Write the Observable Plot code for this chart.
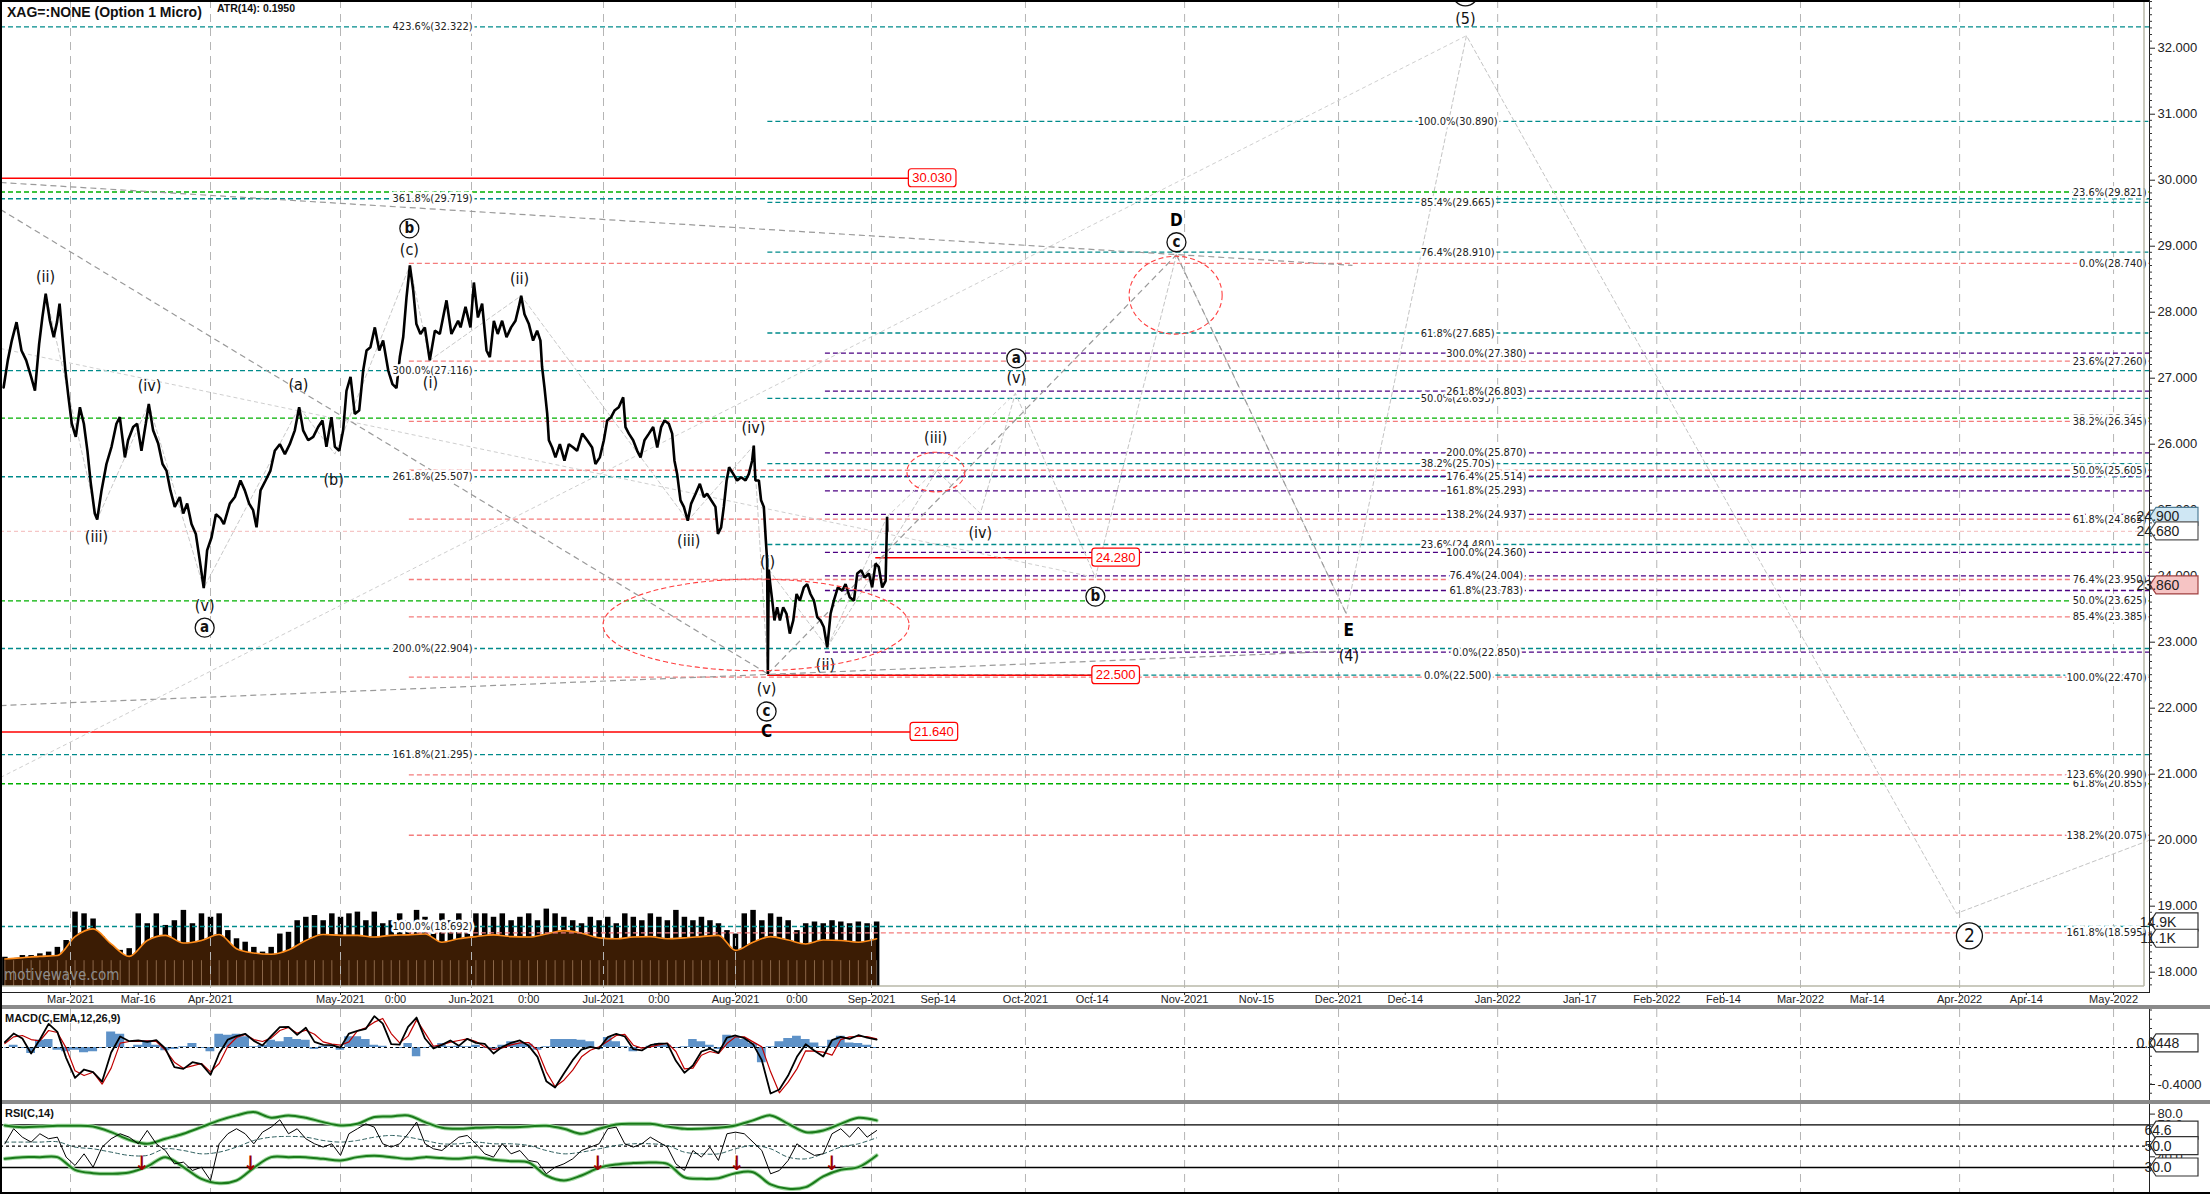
<!DOCTYPE html>
<html><head><meta charset="utf-8">
<script src="https://cdn.jsdelivr.net/npm/d3@7"></script>
<script src="https://cdn.jsdelivr.net/npm/@observablehq/plot@0.6"></script>
<style>
body{margin:0;background:#fff;}
#wrap{position:relative;width:2210px;height:1194px;overflow:hidden;background:#fff;font-family:'Liberation Sans Narrow','DejaVu Sans Condensed','Arial Narrow',sans-serif;}
.panel{position:absolute;left:0;}
.lbl{position:absolute;white-space:nowrap;color:#111;}
svg g[aria-label^="x-axis"] text{font-size:11px;font-family:'Liberation Sans',Arial,sans-serif;fill:#222;}
svg g[aria-label^="y-axis"] text{font-size:13px;font-family:'Liberation Sans',Arial,sans-serif;fill:#222;}
</style></head>
<body><div id="wrap"></div>
<script>
const FONT = "'Liberation Sans Narrow','DejaVu Sans Condensed','Arial Narrow',sans-serif";
const W = 2210, MR = 61;

// ---------- DATA ----------
const priceTimes = [
"02-13 17","02-14 16","02-15 14","02-16 16","02-17 19","02-18 21","02-20 00","02-20 21","02-21 20","02-22 14",
"02-23 08","02-24 07","02-25 04","02-25 22","02-26 12","02-27 04","02-27 20","02-28 13","03-01 07","03-02 04",
"03-03 02","03-03 23","03-04 18","03-05 12","03-06 09","03-06 22","03-07 21","03-08 23","03-10 02","03-11 04",
"03-11 22","03-13 01","03-13 18","03-14 21","03-15 18","03-16 17","03-17 16","03-18 08","03-19 07","03-20 10",
"03-21 09","03-22 06","03-23 03","03-24 02","03-25 05","03-25 23","03-26 20","03-27 19","03-28 18","03-29 15",
"03-30 12","03-31 06","04-01 06","04-02 06","04-03 07","04-04 02","04-05 11","04-06 15","04-07 22","04-08 22",
"04-09 22","04-10 20","04-11 15","04-12 13","04-13 17","04-14 20","04-15 20","04-17 00","04-18 04","04-19 07",
"04-20 11","04-21 11","04-22 09","04-23 13","04-24 17","04-25 20","04-26 20","04-27 18","04-28 22","04-29 17",
"04-30 17","05-01 15","05-02 10","05-03 09","05-04 09","05-05 10","05-06 09","05-07 04","05-08 02","05-09 03",
"05-10 04","05-11 02","05-12 07","05-13 07","05-14 06","05-15 01","05-15 20","05-16 15","05-17 10","05-18 05",
"05-18 23","05-19 22","05-20 23","05-22 03","05-23 08","05-24 12","05-26 02","05-27 06","05-28 20","05-29 10",
"05-30 14","05-31 18","06-01 13","06-02 11","06-03 10","06-04 10","06-05 04","06-06 02","06-06 23","06-07 23",
"06-08 23","06-10 00","06-11 00","06-11 18","06-12 07","06-13 01","06-14 01","06-15 00","06-15 22","06-16 16",
"06-17 01","06-17 14","06-18 05","06-18 14","06-19 08","06-20 02","06-21 02","06-22 03","06-23 03","06-24 03",
"06-25 00","06-26 04","06-27 07","06-28 10","06-29 04","06-30 04","07-01 02","07-01 21","07-02 19","07-03 14",
"07-04 14","07-05 15","07-06 04","07-06 23","07-07 23","07-08 22","07-09 17","07-10 15","07-11 16","07-12 16",
"07-13 15","07-14 13","07-15 08","07-16 08","07-17 03","07-17 16","07-18 07","07-19 02","07-19 21","07-20 19",
"07-21 14","07-22 15","07-23 15","07-24 14","07-25 08","07-26 07","07-27 07","07-27 21","07-28 15","07-29 06",
"07-29 22","07-30 12","07-31 11","08-01 09","08-02 07","08-03 07","08-04 01","08-04 19","08-05 04","08-05 13",
"08-06 08","08-06 20","08-07 11","08-07 22","08-08 05","08-08 09","08-08 14","08-08 20","08-09 09","08-09 21",
"08-10 12","08-11 03","08-11 21","08-12 15","08-13 09","08-14 04","08-14 22","08-15 16","08-16 14","08-17 08",
"08-18 02","08-18 21","08-19 15","08-20 09","08-21 03","08-21 22","08-22 16","08-23 10","08-24 08","08-25 08",
"08-26 02","08-27 01","08-28 00","08-28 18","08-29 16","08-30 10","08-31 10","09-01 03","09-01 19","09-02 10",
"09-03 02","09-03 18","09-04 01","09-04 02"];
const priceValues = [
26.86,27.27,27.57,27.85,27.42,27.27,27.02,26.81,27.52,27.93,
28.28,27.87,27.62,27.85,28.13,27.62,27.12,26.71,26.31,26.11,
26.56,26.31,25.90,25.40,24.95,24.86,25.30,25.70,25.96,26.31,
26.41,25.80,26.06,26.26,26.31,25.90,26.31,26.61,26.21,26.01,
25.70,25.60,25.30,25.05,25.20,24.95,25.10,24.79,24.64,24.24,
23.82,24.39,24.59,24.94,24.88,24.79,25.10,25.20,25.45,25.30,
25.10,25.00,24.74,25.30,25.45,25.60,25.90,26.00,25.85,26.00,
26.21,26.56,26.21,26.06,26.11,26.26,26.36,25.96,26.41,25.96,
25.90,26.21,26.81,27.02,26.46,26.51,27.12,27.42,27.47,27.77,
27.42,27.57,27.12,26.91,26.85,27.32,27.62,28.23,28.71,28.33,
27.82,27.67,27.77,27.27,27.72,27.67,28.18,27.67,27.87,27.77,
28.08,27.77,28.45,27.92,28.13,27.42,27.32,27.87,27.67,27.87,
27.62,27.77,27.87,28.08,28.25,27.97,27.82,27.57,27.72,27.57,
27.17,26.86,26.46,26.06,25.95,25.80,26.00,25.75,26.00,25.95,
25.90,26.16,26.06,25.95,25.70,25.80,26.06,26.36,26.41,26.51,
26.56,26.71,26.26,26.16,26.06,25.90,25.80,26.06,26.16,26.26,
25.95,26.26,26.36,26.31,26.16,25.75,25.55,25.15,25.05,24.84,
25.10,25.25,25.40,25.20,25.25,25.15,25.05,24.64,24.74,25.05,
25.45,25.65,25.55,25.45,25.50,25.45,25.55,25.75,25.98,25.45,
25.45,25.15,25.05,24.54,24.24,22.52,24.10,23.93,23.63,23.33,
23.53,23.33,23.53,23.43,23.13,23.33,23.73,23.63,23.83,23.88,
23.73,23.63,23.38,23.33,23.23,22.92,23.43,23.63,23.83,23.78,
23.88,23.68,23.63,24.04,24.09,23.98,24.04,23.83,24.19,24.14,
23.83,23.93,24.90,24.68];
const lastPrice = 24.68;

// indicator series (every 2 days from 2021-02-14)
const macdValues = [
0.058,0.151,0.097,-0.065,0.086,0.256,0.169,-0.112,-0.328,-0.238,
-0.267,-0.368,-0.054,0.119,0.068,0.076,0.061,0.079,-0.011,-0.213,
-0.231,-0.159,-0.18,-0.295,-0.065,0.086,0.123,0.148,0.072,0.022,
0.123,0.22,0.223,0.137,0.213,0.061,0.029,0.025,0,0.151,
0.18,0.202,0.339,0.259,0.036,0.032,0.223,0.324,0.097,-0.011,
0.029,0.076,0.018,0.094,0.05,0.04,-0.065,0.007,0.05,0.076,
0.018,-0.101,-0.364,-0.432,-0.281,-0.137,-0.022,0.007,-0.011,0.112,
0.148,0.119,-0.018,-0.032,0.025,0.043,0.043,-0.144,-0.274,-0.195,
-0.043,-0.011,-0.058,0.108,0.13,0.101,0.036,-0.137,-0.497,-0.454,
-0.303,-0.101,0.036,-0.036,-0.097,0.079,0.115,0.094,0.133,0.108,0.086];
const signalValues = [
0.043,0.115,0.13,0.086,0.072,0.184,0.162,-0.004,-0.252,-0.303,
-0.267,-0.396,-0.223,0.047,0.065,0.065,0.072,0.065,-0.029,-0.159,
-0.223,-0.198,-0.173,-0.263,-0.173,0.014,0.108,0.141,0.086,0.065,
0.101,0.184,0.216,0.155,0.187,0.144,0.061,0.036,0.025,0.061,
0.18,0.213,0.274,0.314,0.151,0.05,0.123,0.299,0.159,0.014,
0.032,0.058,0.076,0.094,0.065,0.007,-0.022,-0.004,0.029,0.05,
0.054,-0.029,-0.263,-0.425,-0.353,-0.245,-0.101,-0.029,0.007,0.068,
0.13,0.141,0.025,-0.007,0.007,0.029,0.047,-0.043,-0.231,-0.223,
-0.083,-0.043,-0.065,0.043,0.115,0.115,0.061,0.007,-0.263,-0.49,
-0.375,-0.231,-0.036,-0.04,-0.05,-0.083,0.086,0.115,0.119,0.119,0.094];
const histValues = [
-0.011,0.025,-0.011,-0.065,0.079,0.086,-0.029,-0.047,-0.029,-0.058,
-0.047,-0.011,0.169,0.144,-0.011,0.025,0.072,0.025,-0.036,-0.022,
0.007,0.043,-0.011,-0.047,0.144,0.133,0.144,0.115,0.007,0.025,
0.079,0.061,0.108,0.086,0.079,-0.022,0.014,0.007,-0.029,0.115,
0.115,0.086,0.025,0.014,0,-0.011,0.043,-0.101,-0.011,0.014,
0.043,0.007,0.014,0.007,0.025,-0.011,-0.029,0.025,0.061,0.05,
0.036,-0.029,0.007,0.086,0.086,0.086,0.079,0.061,-0.022,0.108,
0.061,0.007,-0.047,-0.011,0.014,0.043,0.025,-0.011,0.007,0.086,
0.061,0.025,-0.022,0.133,0.115,0.086,0.043,-0.166,0.007,0.061,
0.097,0.123,0.086,0.05,0.007,0.079,0.123,0.05,0.043,0.025,-0.011];
const rsiValues = [
52.2,66.3,58.4,53.8,61.6,56.9,58.4,39.7,31.9,42.8,
30.3,49.1,56.9,61.6,58.4,52.2,64.7,52.2,45.9,33.4,
35.0,27.2,30.3,17.8,52.2,61.6,66.3,61.6,52.2,63.1,
67.8,74.7,61.6,66.3,56.9,52.2,49.1,52.2,41.3,61.6,
66.3,70.9,67.8,52.2,49.1,52.2,61.6,72.5,52.2,47.5,
45.9,52.2,58.4,60.0,52.2,42.8,39.7,52.2,42.8,45.9,
36.6,35.0,24.1,30.3,33.4,38.1,45.9,49.1,52.2,66.3,
67.8,52.2,49.1,52.2,58.4,53.8,49.1,33.4,27.2,45.9,
39.7,49.1,36.6,61.6,63.1,61.6,53.8,45.9,24.1,27.2,
36.6,52.2,45.9,41.3,42.8,61.6,66.3,58.4,67.8,58.4,64.6];
const volumeValues = [
6.8,6.4,7.2,7.2,7.6,8.0,9.1,10.7,17.3,16.9,
15.7,11.5,9.1,8.4,8.8,16.9,14.6,16.9,14.2,15.3,
17.7,14.6,16.9,16.1,16.9,13.0,11.1,10.3,9.1,8.0,
9.1,12.2,12.6,15.3,16.1,16.5,15.3,16.9,16.1,16.9,
17.3,15.3,17.3,14.6,15.3,16.9,15.3,17.7,16.1,15.3,
16.9,15.3,16.9,14.6,16.9,16.9,16.1,16.9,15.3,16.1,
16.9,15.3,18.0,16.9,16.1,15.3,14.6,16.1,15.3,16.1,
14.6,16.9,16.1,15.3,16.9,16.1,15.3,17.7,16.1,15.3,
16.1,15.3,14.6,13.0,12.2,16.9,17.7,15.3,16.9,16.1,
15.3,13.0,14.6,15.0,14.6,15.3,15.0,14.6,15.0,14.6,15.0];
// every 4 days from 2021-02-14
const rsiUpper = [69.4,67.8,68.4,69.1,69.1,68.4,63.1,55.9,52.2,56.9,61.6,67.8,74.1,78.8,81.9,76.6,78.8,76.6,72.5,69.4,70.9,77.2,77.8,78.8,72.5,67.2,66.3,67.2,67.8,67.8,68.4,69.1,66.3,61.6,66.3,70.3,70.9,70.9,68.4,66.3,66.3,67.2,69.4,74.1,78.8,70.9,63.1,64.7,70.9,76.6,74.1];
const rsiLower = [38.1,39.7,39.7,39.7,27.8,24.7,24.1,25.3,30.9,39.7,30.3,19.4,15.3,17.8,29.7,39.7,39.7,39.7,38.1,36.6,39.7,40.9,39.7,38.1,39.7,38.8,38.1,39.7,37.2,35.9,34.7,22.5,17.8,22.5,29.7,32.8,34.1,34.7,33.4,20.9,19.4,20.0,24.7,25.6,14.1,10.0,11.6,21.6,27.8,30.3,41.3];
const rsiMid = [53.8,53.8,53.8,54.1,49.1,47.5,44.4,41.3,41.3,47.5,45.9,42.8,44.4,49.1,55.3,58.4,59.1,58.4,55.3,53.8,55.3,58.4,60.0,58.4,55.3,52.2,52.2,53.8,52.2,52.2,50.6,45.9,42.8,44.4,47.5,50.6,52.2,52.2,50.6,44.4,42.8,42.8,47.5,50.6,47.5,39.7,38.1,42.8,49.1,52.2,57.8];
const volumeMA = [6.4,6.7,7.0,7.2,11.6,13.4,9.9,7.0,10.7,11.9,10.1,10.7,12.1,8.8,7.8,7.5,8.5,10.7,12.1,11.9,11.9,11.5,11.9,12.0,12.2,10.3,11.1,11.6,12.0,11.6,11.5,12.2,13.0,12.4,11.3,11.1,11.5,11.6,11.1,11.3,11.6,11.9,8.4,10.3,11.6,10.8,9.9,10.8,10.7,10.3,11.1];
const rsiArrowTimes = ["2021-03-16T17","2021-04-10T05","2021-06-29T15","2021-08-01T05","2021-08-22T21"];

// Fibonacci level sets
const tealAValues = [32.322,29.719,27.116,25.507,22.904,21.295,18.692];
const tealAPct    = [423.6,361.8,300.0,261.8,200.0,161.8,100.0];
const tealBValues = [30.890,29.665,28.910,27.685,26.695,25.705,24.480,22.500];
const tealBPct    = [100.0,85.4,76.4,61.8,50.0,38.2,23.6,0.0];
const purpleValues= [27.380,26.803,25.870,25.514,25.293,24.937,24.360,24.004,23.783,22.850];
const purplePct   = [300.0,261.8,200.0,176.4,161.8,138.2,100.0,76.4,61.8,0.0];
const pinkValues  = [28.740,27.260,26.345,25.605,24.865,23.950,23.385,22.470,20.990,20.075,18.595];
const pinkPct     = [0.0,23.6,38.2,50.0,61.8,76.4,85.4,100.0,123.6,138.2,161.8];
const greenValues = [29.821,26.394,23.625,20.855];
const greenPct    = [23.6,38.2,50.0,61.8];
const fibStarts = {tealA:"2021-02-13T00", tealB:"2021-08-08T09", purple:"2021-08-21T12", pink:"2021-05-17T07", green:"2021-02-13T00"};
const fibLabelTimes = {tealA:"2021-05-22T19", tealB:"2021-12-24T05", purple:"2021-12-29T19"};

// red price levels
const redValues = [30.030, 21.640, 22.500, 24.280];
const redStarts = ["2021-02-13T00","2021-02-13T00","2021-08-08T09","2021-09-01T20"];
const redLabelTimes = ["2021-09-12T22","2021-09-13T06","2021-10-18T16","2021-10-18T16"];

// wave pivots
const pastPathTimes = ["2021-02-23T08","2021-03-06T22","2021-03-18T08","2021-03-30T12","2021-04-21T11","2021-04-29T17","2021-05-17T10","2021-05-22T03","2021-06-12T07","2021-07-20T19","2021-08-05T04","2021-08-08T09","2021-08-08T14","2021-08-21T22","2021-09-04T01"];
const pastPathValues = [28.28,24.86,26.61,23.82,26.56,25.85,28.71,27.27,28.25,24.84,25.98,22.52,24.10,22.92,24.90];
const futurePathTimes = ["2021-08-21T22","2021-09-13T17","2021-09-22T05","2021-09-29T01","2021-10-14T15","2021-10-30T10","2021-12-02T12","2021-12-25T22","2022-03-31T10","2022-05-08T00"];
const futurePathValues = [22.92,25.60,24.95,26.77,23.98,28.87,23.43,32.19,18.89,20.00];
// dashed guide lines: [start, value, end, value]
const darkGuides = [
 ["2021-02-13T00",29.965,"2021-12-03T17",28.71],
 ["2021-02-13T00",29.556,"2021-08-08T09",22.52],
 ["2021-02-13T00",22.04,"2021-11-30T10",22.86],
 ["2021-08-08T09",22.52,"2021-10-30T10",28.87],
 ["2021-10-30T10",28.87,"2021-12-02T12",23.43]];
const lightGuides = [
 ["2021-02-13T00",20.95,"2021-12-25T22",32.19],
 ["2021-02-13T00",27.45,"2021-10-14T15",23.98],
 ["2021-09-04T01",24.90,"2021-09-29T01",26.77]];

const waveTexts = ["(ii)","(iii)","(iv)","(v)","(a)","(b)","(c)","(i)","(ii)","(iii)","(iv)","(i)","(ii)","(v)","(iii)","(iv)","(v)","(4)","(5)"];
const waveTimes = ["2021-02-23T07","2021-03-06T18","2021-03-18T12","2021-03-30T17","2021-04-21T07","2021-04-29T10","2021-05-17T07","2021-05-22T07","2021-06-11T22","2021-07-21T00","2021-08-05T02","2021-08-08T07","2021-08-21T12","2021-08-08T02","2021-09-13T12","2021-09-22T05","2021-09-29T05","2021-12-03T00","2021-12-25T17"];
const waveValues = [28.53,24.59,26.89,23.556,26.90,25.46,28.95,26.935,28.51,24.53,26.25,24.22,22.65,22.29,26.09,24.66,27.00,22.80,32.45];
const boldTexts = ["C","D","E"];
const boldTimes = ["2021-08-08T02","2021-10-30T10","2021-12-03T00"];
const boldValues = [21.65,29.39,23.18];
const circleTexts = ["a","b","c","a","b","c"];
const circleTimes = ["2021-03-30T17","2021-05-17T07","2021-08-08T02","2021-09-29T05","2021-10-14T15","2021-10-30T10"];
const circleValues = [23.22,29.27,21.95,27.30,23.69,29.06];
const bigCircleTexts = ["2",""];
const bigCircleTimes = ["2022-04-02T22","2021-12-25T17"];
const bigCircleValues = [18.55,32.84];

const ellipseStarts = ["2021-07-01T00","2021-09-08T00","2021-10-21T07"];
const ellipseEnds   = ["2021-09-08T10","2021-09-19T07","2021-11-08T10"];
const ellipseLows   = [22.56,25.27,27.66];
const ellipseHighs  = [23.95,25.87,28.84];

const tickTimes = ["2021-03-01","2021-03-16","2021-04-01","2021-05-01","2021-05-14","2021-06-01","2021-06-14","2021-07-01","2021-07-14","2021-08-01","2021-08-15","2021-09-01","2021-09-14","2021-10-01","2021-10-14","2021-11-01","2021-11-15","2021-12-01","2021-12-14","2022-01-01","2022-01-17","2022-02-01","2022-02-14","2022-03-01","2022-03-14","2022-04-01","2022-04-14","2022-05-01"];
const tickLabels = ["Mar-2021","Mar-16","Apr-2021","May-2021","0:00","Jun-2021","0:00","Jul-2021","0:00","Aug-2021","0:00","Sep-2021","Sep-14","Oct-2021","Oct-14","Nov-2021","Nov-15","Dec-2021","Dec-14","Jan-2022","Jan-17","Feb-2022","Feb-14","Mar-2022","Mar-14","Apr-2022","Apr-14","May-2022"];
const monthTimes = ["2021-03-01","2021-04-01","2021-05-01","2021-06-01","2021-07-01","2021-08-01","2021-09-01","2021-10-01","2021-11-01","2021-12-01","2022-01-01","2022-02-01","2022-03-01","2022-04-01","2022-05-01"];
const priceTicks = [18,19,20,21,22,23,24,25,26,27,28,29,30,31,32];
const priceTags = [[24.900,"24.900","#cfe7f4","#4f7d96"],[24.680,"24.680","#ffffff","#555"],[23.860,"23.860","#f6c4c4","#a04040"]];
const volumeTags = [[14.9,"14.9K"],[11.1,"11.1K"]];
const macdTag = 0.0448;
const rsiTags = [64.6, 50.0, 30.0];

// ---------- HELPERS ----------
function T(s){
  if (/^\d\d-\d\d \d\d$/.test(s)) return new Date(`2021-${s.slice(0,5)}T${s.slice(6)}:00:00Z`);
  if (s.length === 10) return new Date(s + "T00:00:00Z");
  return new Date(s + ":00:00Z");
}
const xDomain = ["2021-02-13","2021-03-01","2021-04-01","2021-05-01","2021-06-01","2021-07-01","2021-08-01","2021-09-01","2022-05-08"].map(T);
const xRange = [0,70,210,340,471,603,735,871,2149];
const xEnd = xDomain[xDomain.length-1];
const xs = d3.scaleUtc().domain(xDomain).range(xRange);
const baseDay = T("2021-02-14");
const grid2 = i => d3.utcDay.offset(baseDay, 2*i);
const grid4 = i => d3.utcDay.offset(baseDay, 4*i);
const labelOf = new Map(tickTimes.map((t,i)=>[+T(t), tickLabels[i]]));
const months = monthTimes.map(T);

const price = priceTimes.map((t,i)=>({t:T(t), v:priceValues[i]}));
const mkSet = (vals, pcts, start) => vals.map((v,i)=>({v, pct:pcts[i], start:T(start), end:xEnd}));
const tealA = mkSet(tealAValues, tealAPct, fibStarts.tealA);
const tealB = mkSet(tealBValues, tealBPct, fibStarts.tealB);
const purple = mkSet(purpleValues, purplePct, fibStarts.purple);
const pink = mkSet(pinkValues, pinkPct, fibStarts.pink);
const green = mkSet(greenValues, greenPct, fibStarts.green);
const fibText = d => `${d.pct.toFixed(1)}%(${d.v.toFixed(3)})`;
const reds = redValues.map((v,i)=>({v, start:T(redStarts[i]), end:T(redLabelTimes[i])}));
const guide = g => ({x1:T(g[0]), y1:g[1], x2:T(g[2]), y2:g[3]});
const pastPath = pastPathTimes.map((t,i)=>({t:T(t), v:pastPathValues[i]}));
const futurePath = futurePathTimes.map((t,i)=>({t:T(t), v:futurePathValues[i]}));
const waves = waveTexts.map((s,i)=>({s, t:T(waveTimes[i]), v:waveValues[i]}));
const bolds = boldTexts.map((s,i)=>({s, t:T(boldTimes[i]), v:boldValues[i]}));
const circles = circleTexts.map((s,i)=>({s, t:T(circleTimes[i]), v:circleValues[i]}));
const bigCircles = bigCircleTexts.map((s,i)=>({s, t:T(bigCircleTimes[i]), v:bigCircleValues[i]}));

const yMain = [17.692, 32.723];
const MAIN_BOTTOM = 992, MAIN_H = 1008;
const ys = d3.scaleLinear().domain(yMain).range([MAIN_BOTTOM, 0]);

const dash = "5,3";
const baseStyle = {fontFamily: FONT, fontSize: "12px", background: "transparent", color:"#222"};
const xHidden = {type:"utc", domain:xDomain, range:xRange, axis:null};
const grid = Plot.ruleX(months, {stroke:"#b5b5b5", strokeDasharray:"8,6", strokeWidth:1});
const halo = {stroke:"white", strokeWidth:5, paintOrder:"stroke", strokeLinejoin:"round"};

const wrap = d3.select("#wrap");
function panel(top){ return wrap.append("div").attr("class","panel").style("top", top+"px"); }
function tag(g, y, txt, fill, stroke){
  const x0 = W-MR+1, w = 48, h = 18;
  g.append("path").attr("d",`M${x0},${y} L${x0+6},${y-h/2} L${x0+w},${y-h/2} L${x0+w},${y+h/2} L${x0+6},${y+h/2} Z`)
    .attr("fill",fill).attr("stroke",stroke).attr("stroke-width",1.2);
  g.append("text").attr("x",x0+8).attr("y",y).attr("dy","0.36em").attr("font-size",14).attr("font-family","'Liberation Sans',Arial,sans-serif").attr("fill","#222").text(txt);
}

// ---------- VOLUME (behind main) ----------
const volTop = 880, volH = 106, volPx = 4.3;
const vol = Plot.plot({
  width: W, height: volH, marginLeft:0, marginRight:MR, marginTop:0, marginBottom:0,
  style: baseStyle,
  x: xHidden, y: {domain:[0, volH/volPx], axis:null},
  marks: [
    Plot.ruleX(volumeValues.map((v,i)=>({t:grid2(i), v})), {x:"t", y1:0, y2:"v", stroke:"#000", strokeWidth:5.5}),
    Plot.areaY(volumeMA.map((v,i)=>({t:grid4(i), v})), {x:"t", y:"v", fill:"#3b1c04", curve:"monotone-x"}),
    Plot.ruleX(volumeValues.map((v,i)=>({t:grid2(i), v})), {x:"t", y1:0, y2:d=>Math.min(d.v,6), stroke:"#f3c9a2", strokeWidth:0.8, strokeOpacity:0.55}),
    Plot.line(volumeMA.map((v,i)=>({t:grid4(i), v})), {x:"t", y:"v", stroke:"#ff8c1a", strokeWidth:1.6, curve:"monotone-x"})
  ]
});
panel(volTop).node().appendChild(vol);

// ---------- MAIN ----------
const main = Plot.plot({
  width: W, height: MAIN_H, marginLeft:0, marginRight:MR, marginTop:0, marginBottom:MAIN_H-MAIN_BOTTOM,
  style: baseStyle,
  x: {type:"utc", domain:xDomain, range:xRange, ticks: tickTimes.map(T), tickFormat: d => labelOf.get(+d) ?? "", tickSize:3, tickPadding:0, label:null, line:true},
  y: {domain:yMain, axis:"right", ticks:priceTicks, tickFormat: d => d.toFixed(3), tickSize:5, tickPadding:3, label:null, line:true},
  marks: [
    grid,
    Plot.ruleY(green, {y:"v", x1:"start", x2:"end", stroke:"#00b000", strokeDasharray:dash, strokeWidth:1.3}),
    Plot.ruleY(pink, {y:"v", x1:"start", x2:"end", stroke:"#f47c7c", strokeDasharray:dash, strokeWidth:1.3}),
    Plot.ruleY(tealA, {y:"v", x1:"start", x2:"end", stroke:"#008b8b", strokeDasharray:dash, strokeWidth:1.3}),
    Plot.ruleY(tealB, {y:"v", x1:"start", x2:"end", stroke:"#008b8b", strokeDasharray:dash, strokeWidth:1.3}),
    Plot.ruleY(purple, {y:"v", x1:"start", x2:"end", stroke:"#4b0082", strokeDasharray:dash, strokeWidth:1.3}),
    Plot.ruleY([lastPrice], {stroke:"#f5c6c6", strokeDasharray:"4,3", strokeWidth:1.2}),
    Plot.ruleY(reds, {y:"v", x1:"start", x2:"end", stroke:"#ff0000", strokeWidth:1.5}),
    Plot.link(lightGuides.map(guide), {x1:"x1", y1:"y1", x2:"x2", y2:"y2", stroke:"#cfcfcf", strokeDasharray:"4,3", strokeWidth:1}),
    Plot.line(pastPath, {x:"t", y:"v", stroke:"#c9c9c9", strokeDasharray:"4,3", strokeWidth:1}),
    Plot.line(futurePath, {x:"t", y:"v", stroke:"#c4c4c4", strokeDasharray:"4,3", strokeWidth:1}),
    Plot.link(darkGuides.map(guide), {x1:"x1", y1:"y1", x2:"x2", y2:"y2", stroke:"#9a9a9a", strokeDasharray:"6,4", strokeWidth:1.2}),
    Plot.line(price, {x:"t", y:"v", stroke:"#000", strokeWidth:2.6, strokeLinejoin:"miter"}),
    // fib labels
    Plot.text(tealA, {x:() => T(fibLabelTimes.tealA), y:"v", text:fibText, fontSize:11, fill:"#222", ...halo}),
    Plot.text(tealB, {x:() => T(fibLabelTimes.tealB), y:"v", text:fibText, fontSize:11, fill:"#222", ...halo}),
    Plot.text(purple, {x:() => T(fibLabelTimes.purple), y:"v", text:fibText, fontSize:11, fill:"#222", ...halo}),
    Plot.text(green, {x:() => xEnd, y:"v", text:fibText, textAnchor:"end", dx:-3, fontSize:11, fill:"#222", ...halo}),
    Plot.text(pink, {x:() => xEnd, y:"v", text:fibText, textAnchor:"end", dx:-3, fontSize:11, fill:"#222", ...halo}),
    // wave labels
    Plot.text(waves, {x:"t", y:"v", text:"s", fontSize:16, fill:"#111"}),
    Plot.text(bolds, {x:"t", y:"v", text:"s", fontSize:17, fontWeight:"bold", fill:"#000"}),
    Plot.dot(circles, {x:"t", y:"v", r:9.5, fill:"white", stroke:"#111", strokeWidth:1.3}),
    Plot.text(circles, {x:"t", y:"v", text:"s", fontSize:15, fontWeight:"bold", fill:"#111"}),
    Plot.dot(bigCircles, {x:"t", y:"v", r:13, fill:"white", stroke:"#111", strokeWidth:1.3}),
    Plot.text(bigCircles, {x:"t", y:"v", text:"s", fontSize:19, fill:"#111"})
  ]
});
panel(0).node().appendChild(main);

// post-render annotations in main
{
  const g = d3.select(main).append("g");
  // plot-area frame (right and bottom)
  g.append("line").attr("x1",W-MR-5).attr("x2",W-MR-5).attr("y1",0).attr("y2",MAIN_BOTTOM-6).attr("stroke","#b8b8a8").attr("stroke-width",1.5);
  g.append("line").attr("x1",0).attr("x2",W-MR-5).attr("y1",MAIN_BOTTOM-6).attr("y2",MAIN_BOTTOM-6).attr("stroke","#b8b8a8").attr("stroke-width",1.5);
  ellipseStarts.forEach((s,i)=>{
    const x1 = xs(T(s)), x2 = xs(T(ellipseEnds[i])), y1 = ys(ellipseLows[i]), y2 = ys(ellipseHighs[i]);
    g.append("ellipse").attr("cx",(x1+x2)/2).attr("cy",(y1+y2)/2).attr("rx",Math.abs(x2-x1)/2).attr("ry",Math.abs(y2-y1)/2)
      .attr("fill","none").attr("stroke","#ff4040").attr("stroke-dasharray","5,3").attr("stroke-width",1.1);
  });
  reds.forEach((d)=>{
    const x = xs(d.end), y = ys(d.v), txt = d.v.toFixed(3), w = txt.length*6.6+8;
    g.append("rect").attr("x",x-w/2).attr("y",y-9).attr("width",w).attr("height",18).attr("rx",3).attr("fill","white").attr("stroke","#ff0000").attr("stroke-width",1.2);
    g.append("text").attr("x",x).attr("y",y).attr("dy","0.36em").attr("text-anchor","middle").attr("fill","#ff0000").attr("font-size",13).attr("font-family","'Liberation Sans',Arial,sans-serif").text(txt);
  });
  d3.range(178, 328).map(v=>v/10).filter(v => Math.abs(v-Math.round(v))>0.01).forEach(v=>{
    g.append("line").attr("x1",W-MR).attr("x2",W-MR+3).attr("y1",ys(v)).attr("y2",ys(v)).attr("stroke","#333");
  });
  priceTags.forEach(([v,txt,fill,stroke])=>tag(g, ys(v), txt, fill, stroke));
  volumeTags.forEach(([v,txt])=>tag(g, volTop + volH - v*volPx, txt, "#fff", "#333"));
}

// ---------- SEPARATORS ----------
wrap.append("div").style("position","absolute").style("left","0").style("top","1005px").style("width",W+"px").style("height","4px").style("background","#8a8a8a");
wrap.append("div").style("position","absolute").style("left","0").style("top","1100px").style("width",W+"px").style("height","4px").style("background","#8a8a8a");

// ---------- MACD ----------
const macdTop = 1009, macdH = 91;
const macdDom = [-0.573, 0.411];
const macd = Plot.plot({
  width: W, height: macdH, marginLeft:0, marginRight:MR, marginTop:0, marginBottom:0,
  style: baseStyle,
  x: xHidden,
  y: {domain:macdDom, axis:"right", ticks:[-0.4], tickFormat: d=>d.toFixed(4), tickSize:5, tickPadding:3, label:null, line:true},
  marks: [
    grid,
    Plot.areaY(histValues.map((v,i)=>({t:grid2(i), v})), {x:"t", y:"v", fill:"#5e92c8", curve:"step"}),
    Plot.ruleY([0], {stroke:"#000", strokeDasharray:"3,3", strokeWidth:1.2}),
    Plot.line(signalValues.map((v,i)=>({t:grid2(i), v})), {x:"t", y:"v", stroke:"#c00000", strokeWidth:1.2}),
    Plot.line(macdValues.map((v,i)=>({t:grid2(i), v})), {x:"t", y:"v", stroke:"#000", strokeWidth:1.8})
  ]
});
panel(macdTop).node().appendChild(macd);
{
  const g = d3.select(macd).append("g");
  const my = d3.scaleLinear().domain(macdDom).range([macdH,0]);
  d3.range(-5,5).map(v=>v/10).forEach(v=>g.append("line").attr("x1",W-MR).attr("x2",W-MR+3).attr("y1",my(v)).attr("y2",my(v)).attr("stroke","#333"));
  tag(g, my(macdTag), macdTag.toFixed(4), "#fff", "#333");
}

// ---------- RSI ----------
const rsiTop = 1104, rsiH = 90;
const rsiDom = [4.7, 89.0];
const rsi = Plot.plot({
  width: W, height: rsiH, marginLeft:0, marginRight:MR, marginTop:0, marginBottom:0,
  style: baseStyle,
  x: xHidden,
  y: {domain:rsiDom, axis:"right", ticks:[80,70,40], tickFormat: d=>d.toFixed(1), tickSize:5, tickPadding:3, label:null, line:true},
  marks: [
    grid,
    Plot.ruleY([70,30], {stroke:"#000", strokeWidth:1.3}),
    Plot.ruleY([50], {stroke:"#000", strokeDasharray:"3,3", strokeWidth:1.2}),
    Plot.line(rsiMid.map((v,i)=>({t:grid4(i), v})), {x:"t", y:"v", stroke:"#2f5f5f", strokeDasharray:"4,3", strokeWidth:1, curve:"catmull-rom"}),
    Plot.line(rsiUpper.map((v,i)=>({t:grid4(i), v})), {x:"t", y:"v", stroke:"#9fd89f", strokeWidth:4, curve:"catmull-rom"}),
    Plot.line(rsiLower.map((v,i)=>({t:grid4(i), v})), {x:"t", y:"v", stroke:"#9fd89f", strokeWidth:4, curve:"catmull-rom"}),
    Plot.line(rsiUpper.map((v,i)=>({t:grid4(i), v})), {x:"t", y:"v", stroke:"#1a7a1a", strokeWidth:2, curve:"catmull-rom"}),
    Plot.line(rsiLower.map((v,i)=>({t:grid4(i), v})), {x:"t", y:"v", stroke:"#1a7a1a", strokeWidth:2, curve:"catmull-rom"}),
    Plot.line(rsiValues.map((v,i)=>({t:grid2(i), v})), {x:"t", y:"v", stroke:"#000", strokeWidth:1}),
    Plot.text(rsiArrowTimes.map(T), {x:d=>d, y:()=>34, text:()=>"↓", fontSize:20, fontWeight:"bold", fill:"#9b0000"})
  ]
});
panel(rsiTop).node().appendChild(rsi);
{
  const g = d3.select(rsi).append("g");
  const ry = d3.scaleLinear().domain(rsiDom).range([rsiH,0]);
  rsiTags.forEach(v => tag(g, ry(v), v.toFixed(1), "#fff", "#333"));
}

// ---------- TEXT / FRAME ----------
function lbl(txt, left, top, css){
  wrap.append("div").attr("class","lbl").attr("style", `left:${left}px;top:${top}px;${css}`).text(txt);
}
const SANS = "font-family:'Liberation Sans',Arial,sans-serif;";
lbl("XAG=:NONE (Option 1 Micro)", 7, 4, SANS+"font-weight:bold;font-size:14px");
lbl("ATR(14): 0.1950", 217, 2, SANS+"font-weight:bold;font-size:10.5px");
lbl("motivewave.com", 4, 966, "font-size:15px;color:#8c8c8c");
lbl("MACD(C,EMA,12,26,9)", 5, 1012, SANS+"font-weight:bold;font-size:11px");
lbl("RSI(C,14)", 5, 1107, SANS+"font-weight:bold;font-size:11px");
wrap.append("div").style("position","absolute").style("left","0").style("top","0").style("width",(W-MR)+"px").style("height","1194px")
  .style("border-left","2px solid #000").style("border-top","2px solid #000").style("box-sizing","border-box").style("pointer-events","none");
wrap.append("div").style("position","absolute").style("left","0").style("top","1192px").style("width",W+"px").style("height","2px").style("background","#000");
</script>
</body></html>
